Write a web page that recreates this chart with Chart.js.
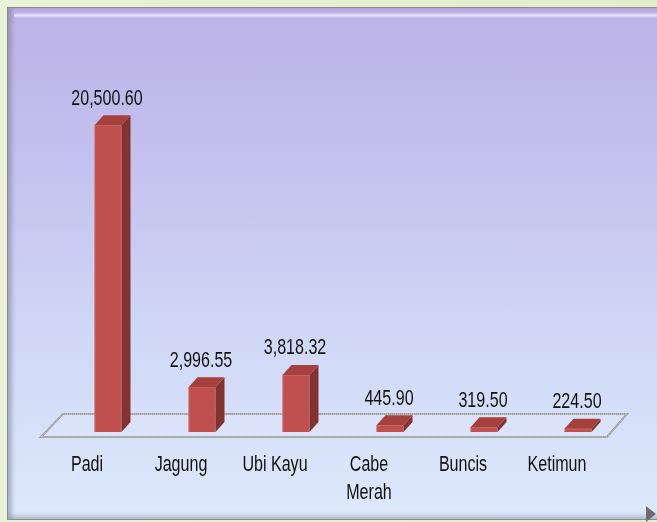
<!DOCTYPE html>
<html>
<head>
<meta charset="utf-8">
<script src="https://cdn.jsdelivr.net/npm/chart.js@4.4.1/dist/chart.umd.min.js"></script>
<style>
  html, body { margin:0; padding:0; width:657px; height:522px; overflow:hidden; }
  body { background: linear-gradient(90deg, #e9f1d9 0%, #e3edcc 100%); position:relative; }
  #panel {
    position:absolute; left:7px; top:7px; width:662px; height:511px;
    border:1px solid #8a8f86;
    background: linear-gradient(180deg, #bcb2e6 0%, #c3c1ee 30%, #d0d8f6 65%, #dde9fb 100%);
    box-shadow: inset 4px 0 4px rgba(120,120,150,0.45), inset 0 -4px 4px rgba(150,150,170,0.35);
  }
  #hl { position:absolute; left:14px; top:13px; width:650px; height:5px;
    background: linear-gradient(180deg, rgba(240,232,255,0.2), rgba(238,230,255,0.9), rgba(220,212,250,0.2)); }
  #wrap { position:absolute; left:0; top:0; width:657px; height:522px; }
  #arrow { position:absolute; left:646px; top:506px; width:0; height:0;
    border-left:10px solid #6d6d6d; border-top:8px solid transparent; border-bottom:8px solid transparent; }
</style>
</head>
<body>
<div id="panel"></div>
<div id="hl"></div>
<div id="arrow"></div>
<div id="wrap"><canvas id="c" width="657" height="522"></canvas></div>
<script>
const categories = ['Padi', 'Jagung', 'Ubi Kayu', ['Cabe', 'Merah'], 'Buncis', 'Ketimun'];
const values = [20500.60, 2996.55, 3818.32, 445.90, 319.50, 224.50];
const yMax = 24000;

const FONT = "'Liberation Sans', Arial, sans-serif";
const FSIZE = 22, SX = 0.73;
const DX = 9, DY = -10;

function narrowText(ctx, txt, x, y) {
  ctx.save();
  ctx.translate(x, y);
  ctx.scale(SX, 1);
  ctx.font = FSIZE + 'px ' + FONT;
  ctx.fillStyle = '#111';
  ctx.textAlign = 'center';
  ctx.textBaseline = 'middle';
  ctx.fillText(txt, 0, 0);
  ctx.restore();
}

const floorPlugin = {
  id: 'floor3d',
  beforeDatasetsDraw(chart) {
    const { ctx, chartArea } = chart;
    const base = chart.scales.y.getPixelForValue(0);
    ctx.save();
    ctx.beginPath();
    ctx.moveTo(chartArea.left - 20, base + 5);
    ctx.lineTo(chartArea.left + 2, base - 18);
    ctx.lineTo(chartArea.right + 2, base - 18);
    ctx.lineTo(chartArea.right - 18, base + 5);
    ctx.closePath();
    ctx.fillStyle = 'rgba(230,236,250,0.25)';
    ctx.fill();
    ctx.lineWidth = 2;
    ctx.strokeStyle = '#9d9d9d';
    ctx.stroke();
    ctx.lineWidth = 1;
    ctx.setLineDash([1, 1]);
    ctx.strokeStyle = '#d6d6d6';
    ctx.stroke();
    ctx.restore();
  }
};

const bar3dPlugin = {
  id: 'bar3d',
  afterDatasetsDraw(chart) {
    const { ctx } = chart;
    const meta = chart.getDatasetMeta(0);
    const xs = chart.scales.x;
    ctx.save();
    meta.data.forEach((bar, i) => {
      const p = bar.getProps(['x', 'y', 'base', 'width'], true);
      const l = p.x - p.width / 2, r = p.x + p.width / 2;
      ctx.beginPath();
      ctx.moveTo(r, p.y);
      ctx.lineTo(r + DX, p.y + DY);
      ctx.lineTo(r + DX, p.base + DY);
      ctx.lineTo(r, p.base);
      ctx.closePath();
      ctx.fillStyle = '#843230';
      ctx.fill();
      ctx.beginPath();
      ctx.moveTo(l, p.y);
      ctx.lineTo(l + DX, p.y + DY);
      ctx.lineTo(r + DX, p.y + DY);
      ctx.lineTo(r, p.y);
      ctx.closePath();
      ctx.fillStyle = '#a6403d';
      ctx.fill();
      const txt = values[i].toLocaleString('en-US', { minimumFractionDigits: 2, maximumFractionDigits: 2 });
      narrowText(ctx, txt, p.x - 1, p.y + DY - 16.5);
    });
    // category labels from the x scale
    chart.data.labels.forEach((lab, i) => {
      const cx = xs.getPixelForValue(i) - 21;
      const lines = Array.isArray(lab) ? lab : [lab];
      lines.forEach((ln, k) => narrowText(ctx, ln, cx, 465 - 432 + p0(chart) + k * 28));
    });
    ctx.restore();
  }
};
function p0(chart) { return chart.scales.y.getPixelForValue(0); }

new Chart(document.getElementById('c'), {
  type: 'bar',
  data: {
    labels: categories,
    datasets: [{
      data: values,
      backgroundColor: '#c0504d',
      borderColor: '#cf7370',
      borderWidth: 1,
      barThickness: 27
    }]
  },
  options: {
    responsive: false,
    animation: false,
    layout: { padding: { left: 61, right: 32, top: 73, bottom: 90 } },
    plugins: { legend: { display: false }, tooltip: { enabled: false } },
    scales: {
      x: { display: false },
      y: { display: false, min: 0, max: yMax }
    }
  },
  plugins: [floorPlugin, bar3dPlugin]
});
</script>
</body>
</html>
